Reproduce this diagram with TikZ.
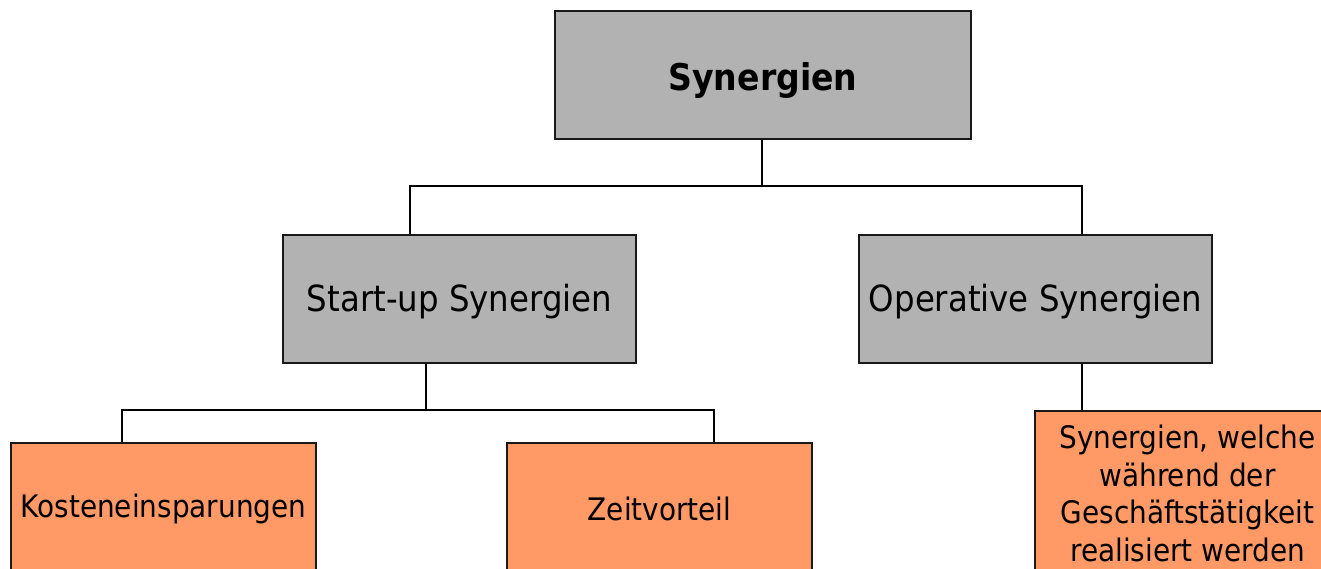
\documentclass[tikz,border=0pt]{standalone}
\usepackage{fontspec}
\setmainfont{DejaVu Sans Condensed}
\definecolor{boxgray}{HTML}{B2B2B2}
\definecolor{boxorange}{HTML}{FF9966}
% lower a label inside its box without changing the box's size
\newcommand{\sinklabel}[2]{\raisebox{-#1}[\height][\depth]{#2}}
\tikzset{
  x=1pt, y=-1pt,
  card/.style={draw=black!90, line width=2pt, inner sep=0pt, anchor=north west, align=center},
  graycard/.style={card, fill=boxgray, minimum width=416pt, minimum height=128pt},
  midcard/.style={card, fill=boxgray, minimum width=353pt, minimum height=128pt, font=\fontsize{36}{42}\selectfont},
  leafcard/.style={card, fill=boxorange, minimum width=305pt, minimum height=132pt, font=\fontsize{31}{37.5}\selectfont},
  link/.style={line width=2pt, black}
}
\begin{document}
\begin{tikzpicture}
\clip (0,0) rectangle (1321,568);
\fill[white] (0,0) rectangle (1321,568);

% boxes
\node[graycard, font=\bfseries\fontsize{36.8}{42}\selectfont] (top) at (554,10) {\sinklabel{5pt}{Synergien}};
\node[midcard] (startup) at (282,234) {\sinklabel{3pt}{Start-up Synergien}};
\node[midcard] (operative) at (858,234) {\sinklabel{3pt}{Operative Synergien}};
\node[leafcard] (kosten) at (10,442) {Kosteneinsparungen};
\node[leafcard] (zeit) at (506,442) {Zeitvorteil};
\node[leafcard, minimum height=165pt] (betrieb) at (1034,410)
  {Synergien, welche\\ während der\\ Geschäftstätigkeit\\ realisiert werden};

% junction points
\coordinate (j1) at (762,186);
\coordinate (j2) at (426,410);

% connectors
\draw[link] (top.south -| j1) -- (j1);
\draw[link] (startup.north -| 410,0) |- (j1) -| (operative.north -| 1082,0);
\draw[link] (startup.south -| j2) -- (j2);
\draw[link] (kosten.north -| 122,0) |- (j2) -| (zeit.north -| 714,0);
\draw[link] (operative.south -| 1082,0) -- (betrieb.north -| 1082,0);
\end{tikzpicture}
\end{document}
